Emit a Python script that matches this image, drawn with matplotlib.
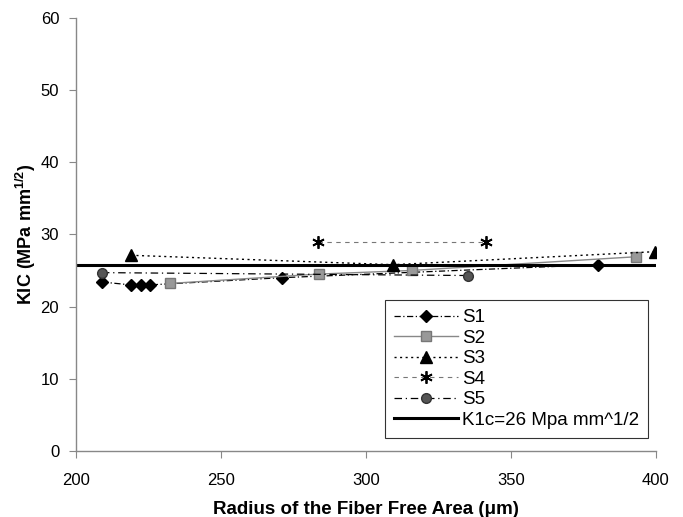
import matplotlib
matplotlib.use("Agg")
from matplotlib import pyplot as plt

plt.rcParams['font.family'] = ['Liberation Sans', 'DejaVu Sans']

# data
s1_x = [209, 219, 222.6, 225.5, 271, 380]
s1_y = [23.4, 23.0, 23.0, 23.0, 24.0, 25.8]
s2_x = [232.4, 283.9, 315.8, 393.3]
s2_y = [23.2, 24.5, 25.0, 26.9]
s3_x = [219, 309.4, 399.7]
s3_y = [27.1, 25.8, 27.6]
s4_x = [283.6, 341.6]
s4_y = [28.9, 28.9]
s5_x = [209, 335.3]
s5_y = [24.7, 24.3]
k1c_x = [200, 400]
k1c_y = [25.8, 25.8]

fig = plt.figure(figsize=(6.83, 5.17), dpi=100)
ax = fig.add_axes([0.111, 0.1277, 0.849, 0.838])

ax.plot(s1_x, s1_y, color='black', lw=0.9, ls=(0, (5, 2, 1, 2)),
        marker='D', ms=6, mfc='black', mec='black', label='S1')
ax.plot(s2_x, s2_y, color='#888888', lw=1.0, ls='-',
        marker='s', ms=7, mfc='#999999', mec='#777777', label='S2')
ax.plot(s3_x, s3_y, color='black', lw=1.0, ls=(0, (1.5, 2.5)),
        marker='^', ms=8, mfc='black', mec='black', label='S3')
ax.plot(s4_x, s4_y, color='#777777', lw=0.8, ls=(0, (4, 4)),
        marker=(6, 2, 0), ms=9, mec='black', mew=1.3, label='S4')
ax.plot(s5_x, s5_y, color='black', lw=0.9, ls=(0, (6, 3, 1, 3)),
        marker='o', ms=7, mfc='#555555', mec='#333333', label='S5')
ax.plot(k1c_x, k1c_y, color='black', lw=2.2, label='K1c=26 Mpa mm^1/2')

ax.set_xlim(200, 400)
ax.set_ylim(0, 60)
ax.set_xticks([200, 250, 300, 350, 400])
ax.set_yticks([0, 10, 20, 30, 40, 50, 60])

for side in ['top', 'right']:
    ax.spines[side].set_visible(False)
for side in ['left', 'bottom']:
    ax.spines[side].set_color('#888888')
    ax.spines[side].set_linewidth(1.0)
ax.tick_params(axis='both', direction='out', length=5, color='#888888',
               labelsize=12)
ax.tick_params(axis='x', pad=11)
ax.tick_params(axis='y', pad=7)

ax.set_xlabel('Radius of the Fiber Free Area (\u03bcm)', fontsize=13.5,
              fontweight='bold', labelpad=9)
ax.set_ylabel(r'KIC (MPa mm$^{\mathregular{1/2}}$)', fontsize=13,
              fontweight='bold', labelpad=2)

leg = ax.legend(loc='lower left', bbox_to_anchor=(0.533, 0.03), fontsize=13.5,
                frameon=True, fancybox=False, edgecolor='black',
                handlelength=3.4, labelspacing=0.18, borderpad=0.5,
                handletextpad=0.2, borderaxespad=0)
leg.get_frame().set_linewidth(0.8)

fig.savefig('out.png', dpi=100)
